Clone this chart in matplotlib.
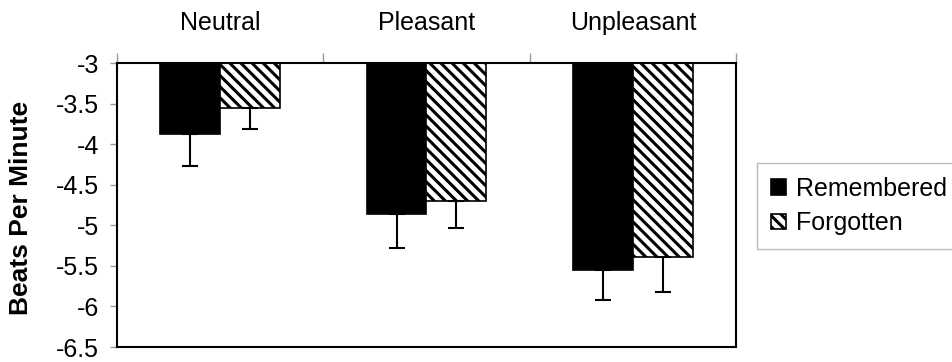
import matplotlib
matplotlib.use("Agg")
import matplotlib.pyplot as plt
import numpy as np
from matplotlib.ticker import FormatStrFormatter

plt.rcParams['font.family'] = ['Liberation Sans', 'DejaVu Sans']
plt.rcParams['axes.unicode_minus'] = False
plt.rcParams['hatch.linewidth'] = 2.2

categories = ["Neutral", "Pleasant", "Unpleasant"]
series_names = ["Remembered", "Forgotten"]
remembered = [-3.87, -4.86, -5.55]
forgotten = [-3.56, -4.70, -5.39]
remembered_err = [0.40, 0.42, 0.37]
forgotten_err = [0.25, 0.33, 0.43]
yticks = [-3, -3.5, -4, -4.5, -5, -5.5, -6, -6.5]

fig = plt.figure(figsize=(9.53, 3.62), dpi=100)
ax = fig.add_axes([117/953, 1-347/362, (736-117)/953, (347-63)/362])

x = np.arange(len(categories))
w = 0.29
base = -3.0
r = np.array(remembered)
f = np.array(forgotten)

ax.bar(x - w/2, r - base, bottom=base, width=w, color='black', edgecolor='black',
       linewidth=1.2, label=series_names[0], zorder=2)
ax.bar(x + w/2, f - base, bottom=base, width=w, color='white', edgecolor='black',
       hatch='\\\\\\', linewidth=1.2, label=series_names[1], zorder=2)

ax.errorbar(x - w/2, r, yerr=[remembered_err, [0]*len(r)], fmt='none',
            ecolor='black', elinewidth=1.5, capsize=6, capthick=1.5, zorder=3)
ax.errorbar(x + w/2, f, yerr=[forgotten_err, [0]*len(f)], fmt='none',
            ecolor='black', elinewidth=1.5, capsize=6, capthick=1.5, zorder=3)

ax.set_xlim(-0.5, len(categories) - 0.5)
ax.set_ylim(-6.5, -3)
ax.set_yticks(yticks)
ax.yaxis.set_major_formatter(FormatStrFormatter('%g'))
ax.tick_params(axis='y', direction='out', length=5, width=1, color='#999999',
               labelsize=18, pad=8)

ax.xaxis.tick_top()
ax.set_xticks(x)
ax.set_xticklabels(categories)
ax.tick_params(axis='x', which='major', length=0, labelsize=18, pad=20)
ax.set_xticks(np.arange(len(categories) + 1) - 0.5, minor=True)
ax.tick_params(axis='x', which='minor', top=True, bottom=False, direction='out',
               length=7, width=1, color='#999999')

for s in ax.spines.values():
    s.set_linewidth(1.5)
    s.set_color('black')

ax.set_ylabel("Beats Per Minute", fontsize=19, fontweight='bold')
ax.yaxis.set_label_coords(-0.136, 0.49)

leg = fig.legend(loc='upper left', bbox_to_anchor=(757/953, 1-163/362),
                 fontsize=18, frameon=True, fancybox=False, handlelength=0.6,
                 handleheight=0.6, handletextpad=0.4, borderpad=0.55,
                 labelspacing=0.42, borderaxespad=0)
leg.get_frame().set_edgecolor('#aaaaaa')
leg.get_frame().set_linewidth(1)

fig.savefig("out.png", dpi=100)
